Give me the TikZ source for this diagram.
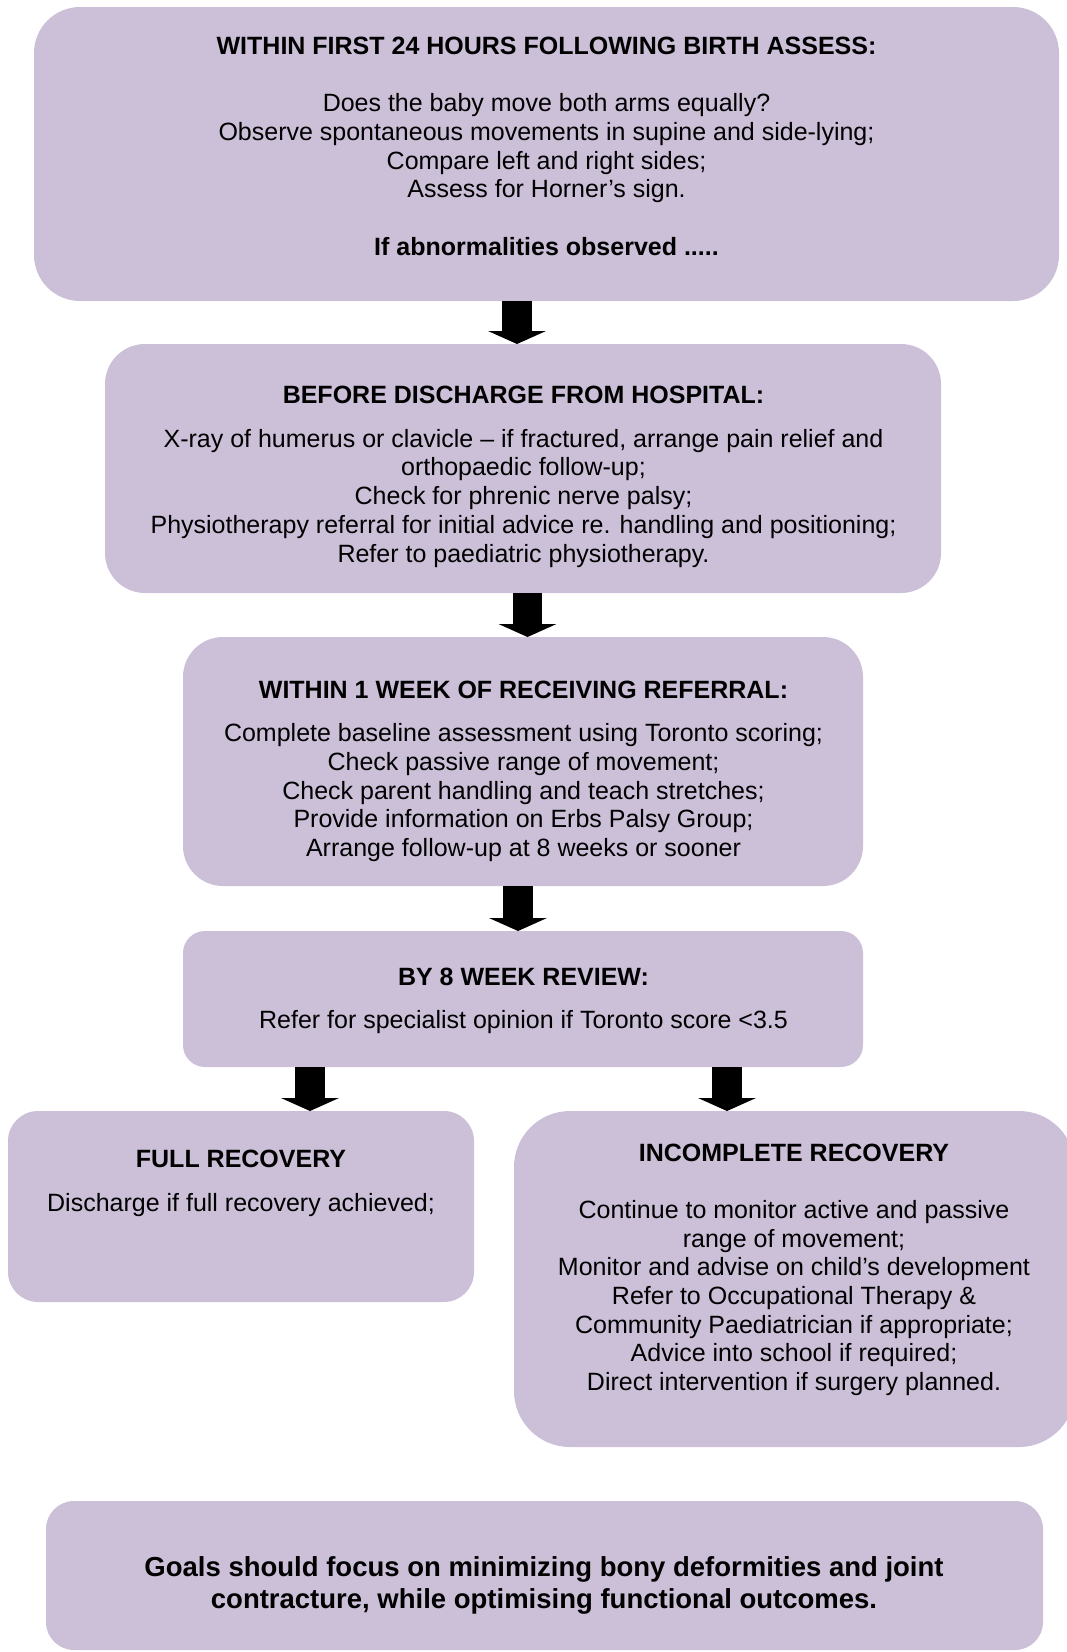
\documentclass[tikz,border=0pt]{standalone}
\usepackage{fontspec}
\setmainfont{Liberation Sans}
\usetikzlibrary{arrows.meta}
\definecolor{lav}{RGB}{204,192,217}
\begin{document}
\begin{tikzpicture}[x=1pt,y=-1pt,
  box/.style={fill=lav,draw=none,inner sep=0pt,outer sep=0pt},
  txt/.style={anchor=north,inner sep=0pt,outer sep=0pt,align=center,
    font=\fontsize{25}{28.7}\selectfont},
  bigtxt/.style={anchor=north,inner sep=0pt,outer sep=0pt,align=center,
    font=\fontsize{27.5}{31.6}\selectfont\bfseries},
  blockarrow/.style={line width=29.5pt,line cap=butt,
    -{Triangle[width=58pt,length=13pt,line width=0pt]}}]
\useasboundingbox (0,0) rectangle (1067,1652);

% boxes
\node[box,minimum width=1025,minimum height=294,rounded corners=46] (b1) at (546.5,154) {};
\node[box,minimum width=836,minimum height=249,rounded corners=40] (b2) at (523,468.5) {};
\node[box,minimum width=680,minimum height=249,rounded corners=40] (b3) at (523,761.5) {};
\node[box,minimum width=680,minimum height=136,rounded corners=22] (b4) at (523,999) {};
\node[box,minimum width=466,minimum height=191,rounded corners=30] (b5) at (241,1206.5) {};
\node[box,minimum width=561,minimum height=336,rounded corners=56] (b6) at (794.5,1279) {};
\node[box,minimum width=997,minimum height=149,rounded corners=28] (b7) at (544.5,1575.5) {};

% arrows
\draw[blockarrow] ([xshift=-29.5]b1.south) -- ([xshift=-6]b2.north);
\draw[blockarrow] ([xshift=4.5]b2.south) -- ([xshift=4.5]b3.north);
\draw[blockarrow] ([xshift=-5]b3.south) -- ([xshift=-5]b4.north);
\draw[blockarrow] ([xshift=-213]b4.south) -- ([xshift=69]b5.north);
\draw[blockarrow] ([xshift=204]b4.south) -- ([xshift=-67.5]b6.north);

% texts
\node[txt] (t1) at (546.5,34.2) {\strut\textbf{WITHIN FIRST 24 HOURS FOLLOWING BIRTH ASSESS:}\\[28.7pt]
Does the baby move both arms equally?\\
Observe spontaneous movements in supine and side-lying;\\
Compare left and right sides;\\
Assess for Horner’s sign.\\[28.7pt]
\textbf{If abnormalities observed .....}};

\node[txt] (t2) at (523.5,383.2) {\strut\textbf{BEFORE DISCHARGE FROM HOSPITAL:}\\[15.3pt]
X-ray of humerus or clavicle – if fractured, arrange pain relief and\\
orthopaedic follow-up;\\
Check for phrenic nerve palsy;\\
Physiotherapy referral for initial advice re. handling and positioning;\\
Refer to paediatric physiotherapy.};

\node[txt] (t3) at (523.5,678.2) {\strut\textbf{WITHIN 1 WEEK OF RECEIVING REFERRAL:}\\[14.7pt]
Complete baseline assessment using Toronto scoring;\\
Check passive range of movement;\\
Check parent handling and teach stretches;\\
Provide information on Erbs Palsy Group;\\
Arrange follow-up at 8 weeks or sooner};

\node[txt] (t4) at (523.5,964.9) {\strut\textbf{BY 8 WEEK REVIEW:}\\[14.6pt]
Refer for specialist opinion if Toronto score <3.5};

\node[txt] (t5) at (241,1147.2) {\strut\textbf{FULL RECOVERY}\\[15.7pt]
Discharge if full recovery achieved;};

\node[txt] (t6) at (794,1140.9) {\strut\textbf{INCOMPLETE RECOVERY}\\[28.7pt]
Continue to monitor active and passive\\
range of movement;\\
Monitor and advise on child’s development\\
Refer to Occupational Therapy \&\\
Community Paediatrician if appropriate;\\
Advice into school if required;\\
Direct intervention if surgery planned.};

\node[bigtxt] (t7) at (544,1554.6) {\strut Goals should focus on minimizing bony deformities and joint\\
contracture, while optimising functional outcomes.};
\end{tikzpicture}
\end{document}
